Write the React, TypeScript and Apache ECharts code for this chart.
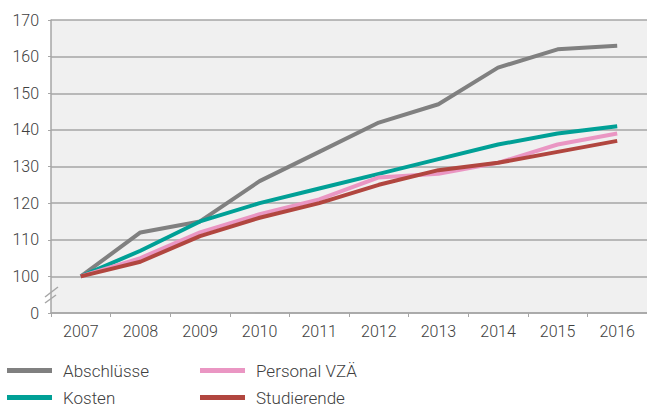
import React, { useEffect, useRef } from "react";
import * as echarts from "echarts";

const years = ["2007", "2008", "2009", "2010", "2011", "2012", "2013", "2014", "2015", "2016"];
const abschluesse = [100, 112, 115, 126, 134, 142, 147, 157, 162, 163];
const kosten = [100, 107, 115, 120, 124, 128, 132, 136, 139, 141];
const personal = [100, 105, 112, 117, 121, 127, 128, 131, 136, 139];
const studierende = [100, 104, 111, 116, 120, 125, 129, 131, 134, 137];

const FONT = "Roboto";

export default function App() {
  const ref = useRef<HTMLDivElement>(null);
  useEffect(() => {
    document.body.style.margin = "0";
    const chart = echarts.init(ref.current!, undefined, { renderer: "svg" });
    const mk = (name: string, data: number[], color: string) => ({
      name,
      type: "line",
      data,
      symbol: "none",
      lineStyle: { width: 4, color },
      itemStyle: { color },
    });
    const lg = (name: string, left: number, top: number) => ({
      data: [name],
      orient: "horizontal",
      left,
      top,
      padding: 0,
      itemWidth: 45,
      itemHeight: 5,
      icon: "rect",
      textStyle: { color: "#404040", fontSize: 17, fontWeight: 300, fontFamily: FONT, padding: [0, 0, 0, 6] },
    });
    chart.setOption({
      animation: false,
      textStyle: { fontFamily: FONT },
      grid: { left: 51, right: 0, top: 20, bottom: 95, show: true, backgroundColor: "#f0f0f0", borderWidth: 0 },
      xAxis: {
        type: "category",
        data: years,
        boundaryGap: true,
        axisLine: { lineStyle: { color: "#a6a6a6", width: 1.5 } },
        axisTick: { show: true, length: 4, lineStyle: { color: "#a6a6a6" } },
        axisLabel: { color: "#404040", fontSize: 16, fontWeight: 300, margin: 10, fontFamily: FONT },
        splitLine: { show: false },
      },
      yAxis: {
        type: "value",
        min: 90,
        max: 170,
        interval: 10,
        axisLine: { show: true, lineStyle: { color: "#a6a6a6", width: 1.5 } },
        axisTick: { show: true, length: 3, lineStyle: { color: "#a6a6a6" } },
        axisLabel: {
          color: "#404040",
          fontSize: 16,
          fontWeight: 300,
          margin: 12,
          fontFamily: FONT,
          formatter: (v: number) => (v === 90 ? "0" : String(v)),
        },
        splitLine: { show: true, lineStyle: { color: "#a6a6a6", width: 1.5 } },
      },
      legend: [
        lg("Abschlüsse", 7, 362),
        lg("Kosten", 7, 389),
        lg("Personal VZÄ", 200, 362),
        lg("Studierende", 200, 389),
      ],
      graphic: [
        { type: "line", shape: { x1: 45, y1: 297, x2: 58, y2: 287 }, style: { stroke: "#a6a6a6", lineWidth: 1.5 }, z: 101 },
        { type: "line", shape: { x1: 45, y1: 303, x2: 56, y2: 295 }, style: { stroke: "#a6a6a6", lineWidth: 1.5 }, z: 101 },
      ],
      series: [
        mk("Abschlüsse", abschluesse, "#808080"),
        mk("Kosten", kosten, "#00a096"),
        mk("Personal VZÄ", personal, "#ea96c3"),
        mk("Studierende", studierende, "#b1463f"),
      ],
    });
    return () => chart.dispose();
  }, []);
  return <div ref={ref} style={{ width: 647, height: 408 }} />;
}
